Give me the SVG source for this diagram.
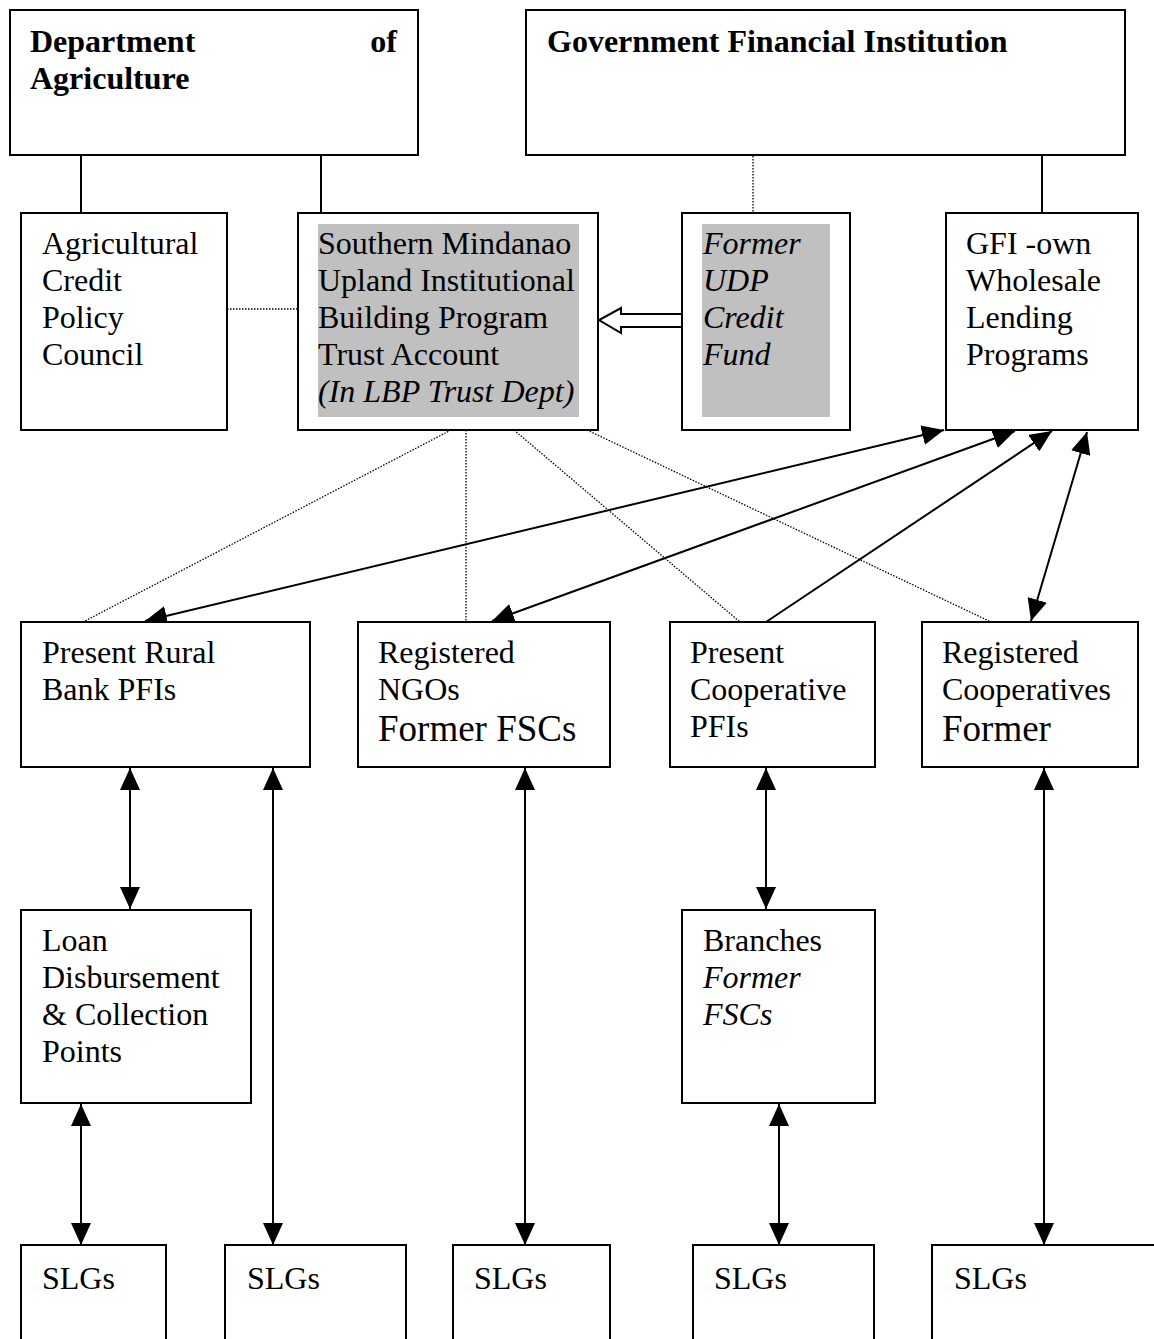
<svg xmlns="http://www.w3.org/2000/svg" width="1154" height="1339" viewBox="0 0 1154 1339">
<style>
.box{fill:#fff;stroke:#000;stroke-width:2}
.gray{fill:#c0c0c0;stroke:none}
.t{font-family:"Liberation Serif","Times New Roman",serif;font-size:32px;fill:#000}
.b{font-weight:bold}
.i{font-style:italic}
.big{font-size:37px}
.ln{stroke:#000;stroke-width:2;fill:none}
.dot{stroke:#000;stroke-width:1.3;stroke-dasharray:1.5 1.5;fill:none}
</style>
<defs>
<marker id="ah" viewBox="0 0 22 20" refX="22" refY="10" markerWidth="22" markerHeight="20" markerUnits="userSpaceOnUse" orient="auto-start-reverse">
<path d="M0,0 L22,10 L0,20 Z" fill="#000"/>
</marker>
</defs>
<rect width="1154" height="1339" fill="#fff"/>

<g id="connectors">
<line class="ln" x1="81" y1="150" x2="81" y2="213"/>
<line class="ln" x1="321" y1="150" x2="321" y2="213"/>
<line class="dot" x1="753" y1="150" x2="753" y2="213"/>
<line class="ln" x1="1042" y1="150" x2="1042" y2="213"/>
<line class="dot" x1="227" y1="309" x2="298" y2="309"/>
<path d="M682,314 L621,314 L621,308 L599,320 L621,333 L621,327 L682,327" fill="#fff" stroke="#000" stroke-width="2"/>
<line class="dot" x1="451" y1="430" x2="83" y2="622"/>
<line class="dot" x1="466" y1="430" x2="466" y2="622"/>
<line class="dot" x1="514" y1="430" x2="740" y2="622"/>
<line class="dot" x1="587" y1="430" x2="991" y2="622"/>
<line class="ln" x1="944" y1="430" x2="145" y2="621" marker-start="url(#ah)" marker-end="url(#ah)"/>
<line class="ln" x1="1015" y1="431" x2="492" y2="621" marker-start="url(#ah)" marker-end="url(#ah)"/>
<line class="ln" x1="766" y1="622" x2="1052" y2="431" marker-end="url(#ah)"/>
<line class="ln" x1="1087" y1="432" x2="1031" y2="621" marker-start="url(#ah)" marker-end="url(#ah)"/>
<line class="ln" x1="130" y1="768" x2="130" y2="909" marker-start="url(#ah)" marker-end="url(#ah)"/>
<line class="ln" x1="273" y1="768" x2="273" y2="1245" marker-start="url(#ah)" marker-end="url(#ah)"/>
<line class="ln" x1="81" y1="1104" x2="81" y2="1245" marker-start="url(#ah)" marker-end="url(#ah)"/>
<line class="ln" x1="525" y1="768" x2="525" y2="1245" marker-start="url(#ah)" marker-end="url(#ah)"/>
<line class="ln" x1="766" y1="768" x2="766" y2="909" marker-start="url(#ah)" marker-end="url(#ah)"/>
<line class="ln" x1="779" y1="1104" x2="779" y2="1245" marker-start="url(#ah)" marker-end="url(#ah)"/>
<line class="ln" x1="1044" y1="768" x2="1044" y2="1245" marker-start="url(#ah)" marker-end="url(#ah)"/>
</g>

<g id="da">
<rect class="box" x="10" y="10" width="408" height="145"/>
<text class="t b" x="30" y="52">Department</text>
<text class="t b" x="397" y="52" text-anchor="end">of</text>
<text class="t b" x="30" y="89">Agriculture</text>
</g>
<g id="gfi">
<rect class="box" x="526" y="10" width="599" height="145"/>
<text class="t b" x="547" y="52">Government Financial Institution</text>
</g>
<g id="acpc">
<rect class="box" x="21" y="213" width="206" height="217"/>
<text class="t" x="42" y="254">Agricultural</text>
<text class="t" x="42" y="291">Credit</text>
<text class="t" x="42" y="328">Policy</text>
<text class="t" x="42" y="365">Council</text>
</g>
<g id="smuibp">
<rect class="box" x="298" y="213" width="300" height="217"/>
<rect class="gray" x="318" y="224" width="261" height="193"/>
<text class="t" x="318" y="254">Southern Mindanao</text>
<text class="t" x="318" y="291">Upland Institutional</text>
<text class="t" x="318" y="328">Building Program</text>
<text class="t" x="318" y="365">Trust Account</text>
<text class="t i" x="318" y="402">(In LBP Trust Dept)</text>
</g>
<g id="udp">
<rect class="box" x="682" y="213" width="168" height="217"/>
<rect class="gray" x="702" y="224" width="128" height="193"/>
<text class="t i" x="703" y="254">Former</text>
<text class="t i" x="703" y="291">UDP</text>
<text class="t i" x="703" y="328">Credit</text>
<text class="t i" x="703" y="365">Fund</text>
</g>
<g id="gfiown">
<rect class="box" x="946" y="213" width="192" height="217"/>
<text class="t" x="966" y="254">GFI -own</text>
<text class="t" x="966" y="291">Wholesale</text>
<text class="t" x="966" y="328">Lending</text>
<text class="t" x="966" y="365">Programs</text>
</g>
<g id="rural">
<rect class="box" x="21" y="622" width="289" height="145"/>
<text class="t" x="42" y="663">Present Rural</text>
<text class="t" x="42" y="700">Bank PFIs</text>
</g>
<g id="ngos">
<rect class="box" x="358" y="622" width="252" height="145"/>
<text class="t" x="378" y="663">Registered</text>
<text class="t" x="378" y="700">NGOs</text>
<text class="t big" x="378" y="741">Former FSCs</text>
</g>
<g id="coop">
<rect class="box" x="670" y="622" width="205" height="145"/>
<text class="t" x="690" y="663">Present</text>
<text class="t" x="690" y="700">Cooperative</text>
<text class="t" x="690" y="737">PFIs</text>
</g>
<g id="regcoop">
<rect class="box" x="922" y="622" width="216" height="145"/>
<text class="t" x="942" y="663">Registered</text>
<text class="t" x="942" y="700">Cooperatives</text>
<text class="t big" x="942" y="741">Former</text>
</g>
<g id="loan">
<rect class="box" x="21" y="910" width="230" height="193"/>
<text class="t" x="42" y="951">Loan</text>
<text class="t" x="42" y="988">Disbursement</text>
<text class="t" x="42" y="1025">&amp; Collection</text>
<text class="t" x="42" y="1062">Points</text>
</g>
<g id="branches">
<rect class="box" x="682" y="910" width="193" height="193"/>
<text class="t" x="703" y="951">Branches</text>
<text class="t i" x="703" y="988">Former</text>
<text class="t i" x="703" y="1025">FSCs</text>
</g>
<g id="slg1"><rect class="box" x="21" y="1245" width="145" height="110"/><text class="t" x="42" y="1289">SLGs</text></g>
<g id="slg2"><rect class="box" x="225" y="1245" width="181" height="110"/><text class="t" x="247" y="1289">SLGs</text></g>
<g id="slg3"><rect class="box" x="453" y="1245" width="157" height="110"/><text class="t" x="474" y="1289">SLGs</text></g>
<g id="slg4"><rect class="box" x="693" y="1245" width="181" height="110"/><text class="t" x="714" y="1289">SLGs</text></g>
<g id="slg5"><rect class="box" x="932" y="1245" width="240" height="110"/><text class="t" x="954" y="1289">SLGs</text></g>
</svg>
